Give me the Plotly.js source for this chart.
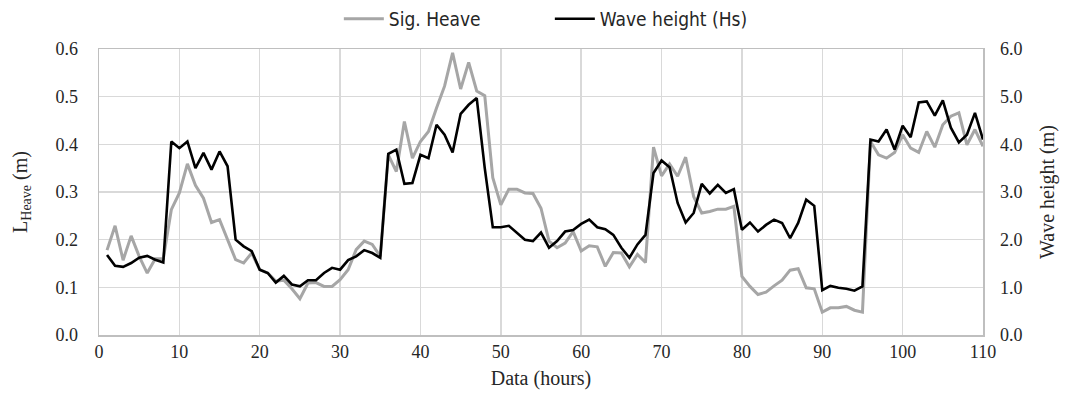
<!DOCTYPE html>
<html>
<head>
<meta charset="utf-8">
<script src="https://cdn.plot.ly/plotly-3.0.1.min.js"></script>
<style>
html,body{margin:0;padding:0;background:#fff;}
#chart{width:1067px;height:403px;}
</style>
</head>
<body>
<div id="chart"></div>
<script>
// hours
const hours = [];
for (let i = 1; i <= 110; i++) hours.push(i);

// Significant heave L_Heave (m), left axis
const sigHeave = [
0.178,0.229,0.157,0.208,0.165,0.130,0.160,0.160,0.263,0.298,
0.359,0.314,0.287,0.236,0.242,0.201,0.158,0.151,0.172,0.137,
0.130,0.113,0.115,0.097,0.076,0.109,0.110,0.102,0.102,0.116,
0.137,0.179,0.197,0.190,0.165,0.378,0.343,0.448,0.371,0.406,
0.427,0.476,0.522,0.592,0.516,0.572,0.512,0.502,0.330,0.273,
0.306,0.306,0.298,0.297,0.266,0.197,0.183,0.193,0.217,0.176,
0.187,0.185,0.144,0.173,0.172,0.143,0.169,0.152,0.394,0.334,
0.359,0.333,0.373,0.290,0.256,0.259,0.264,0.264,0.270,0.123,
0.102,0.085,0.090,0.103,0.115,0.136,0.139,0.099,0.097,0.048,
0.057,0.057,0.060,0.052,0.048,0.406,0.378,0.371,0.383,0.420,
0.392,0.383,0.427,0.394,0.441,0.459,0.466,0.399,0.431,0.396
];

// Wave height Hs (m), right axis
const waveHeight = [
1.68,1.45,1.43,1.51,1.62,1.66,1.58,1.52,4.06,3.92,
4.06,3.50,3.82,3.47,3.85,3.54,2.00,1.86,1.76,1.37,
1.30,1.10,1.24,1.06,1.02,1.15,1.15,1.30,1.41,1.37,
1.57,1.65,1.78,1.72,1.62,3.80,3.89,3.17,3.19,3.78,
3.71,4.41,4.20,3.83,4.64,4.83,4.97,3.50,2.26,2.26,
2.29,2.14,2.00,1.97,2.15,1.83,1.97,2.17,2.20,2.33,
2.42,2.26,2.22,2.10,1.83,1.62,1.90,2.10,3.40,3.66,
3.52,2.77,2.36,2.56,3.17,2.97,3.15,2.98,3.06,2.21,
2.36,2.17,2.31,2.42,2.35,2.03,2.35,2.84,2.71,0.94,
1.03,0.99,0.97,0.93,1.02,4.10,4.06,4.31,3.89,4.39,
4.15,4.88,4.90,4.60,4.92,4.35,4.04,4.20,4.66,4.10
];

const xTicks = [0,10,20,30,40,50,60,70,80,90,100,110];
const leftTicks = [0,0.1,0.2,0.3,0.4,0.5,0.6];
const rightTicks = [0,1,2,3,4,5,6];

const serif = 'Liberation Serif, Times New Roman, serif';
const sans = 'Liberation Sans Narrow, DejaVu Sans Condensed, Arial Narrow, sans-serif';

const traces = [
  {x: hours, y: sigHeave, name: 'Sig. Heave', type: 'scatter', mode: 'lines',
   line: {color: '#a6a6a6', width: 3}, yaxis: 'y'},
  {x: hours, y: waveHeight, name: 'Wave height (Hs)', type: 'scatter', mode: 'lines',
   line: {color: '#000000', width: 2.6}, yaxis: 'y2'}
];

const layout = {
  width: 1067, height: 403,
  margin: {l: 99, r: 84, t: 49, b: 68, autoexpand: false},
  paper_bgcolor: '#fff', plot_bgcolor: '#fff',
  showlegend: true,
  legend: {orientation: 'h', x: 0.51, xanchor: 'center', y: 1.105, yanchor: 'middle',
           font: {family: sans, size: 19, color: '#262626'}, entrywidth: 156, itemwidth: 40,
           bgcolor: 'rgba(0,0,0,0)'},
  xaxis: {range: [0, 110], tickvals: xTicks, ticktext: xTicks.map(String),
          showgrid: true, gridcolor: '#d9d9d9', gridwidth: 1.5,
          showline: true, linecolor: '#bfbfbf', linewidth: 1.5, mirror: true,
          ticks: '', zeroline: false, ticklabelstandoff: 0,
          tickfont: {family: serif, size: 18, color: '#262626'},
          title: {text: 'Data (hours)', font: {family: serif, size: 20, color: '#262626'}, standoff: 10}},
  yaxis: {range: [0, 0.6], tickvals: leftTicks, ticktext: leftTicks.map(v => v.toFixed(1)),
          showgrid: true, gridcolor: '#d9d9d9', gridwidth: 1.5,
          showline: true, linecolor: '#bfbfbf', linewidth: 1.5, mirror: true,
          ticks: '', zeroline: false, ticklabelstandoff: 16,
          tickfont: {family: serif, size: 18, color: '#262626'},
          title: {text: 'L<sub>Heave</sub> (m)', font: {family: serif, size: 20, color: '#262626'}, standoff: 22}},
  yaxis2: {range: [0, 6], tickvals: rightTicks, ticktext: rightTicks.map(v => v.toFixed(1)),
           overlaying: 'y', side: 'right', showgrid: false, zeroline: false,
           ticks: '', ticklabelstandoff: 16, showline: false,
           tickfont: {family: serif, size: 18, color: '#262626'},
           title: {text: 'Wave height (m)', font: {family: serif, size: 20, color: '#262626'}, standoff: 18}}
};

Plotly.newPlot('chart', traces, layout, {displayModeBar: false, staticPlot: true});
</script>
</body>
</html>
